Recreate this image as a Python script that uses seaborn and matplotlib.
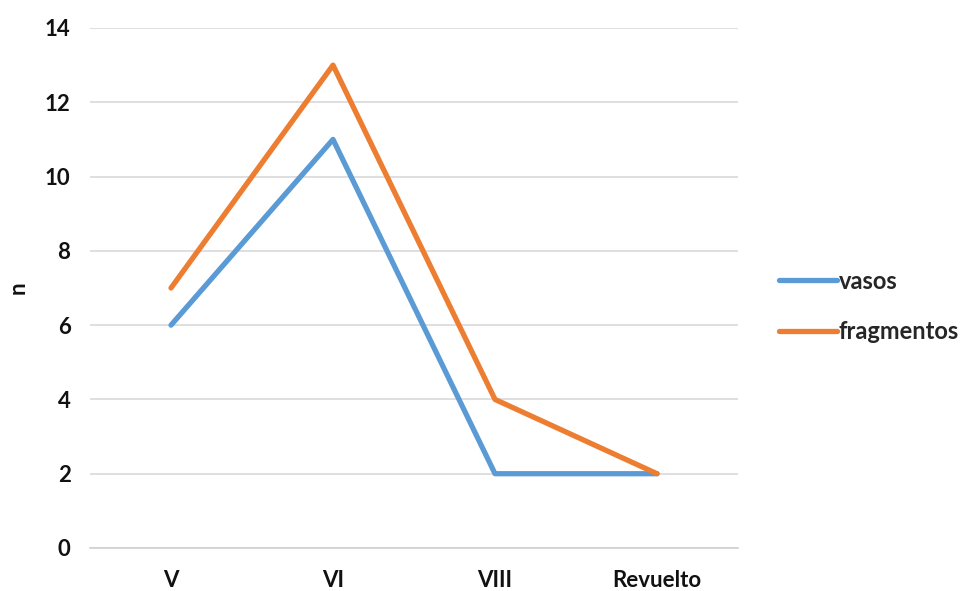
import matplotlib
matplotlib.use("Agg")
import matplotlib.pyplot as plt
import seaborn as sns
import pandas as pd

categories = ["V", "VI", "VIII", "Revuelto"]
vasos = [6, 11, 2, 2]
fragmentos = [7, 13, 4, 2]
y_ticks = [0, 2, 4, 6, 8, 10, 12, 14]

sns.set_theme(style="white")
plt.rcParams["font.family"] = ["Lato", "DejaVu Sans"]

df = pd.DataFrame({
    "periodo": categories * 2,
    "n": vasos + fragmentos,
    "serie": ["vasos"] * len(vasos) + ["fragmentos"] * len(fragmentos),
})

fig = plt.figure(figsize=(9.66, 5.91), dpi=100)
ax = fig.add_axes([90 / 966, 1 - 548 / 591, 648 / 966, 520 / 591])

palette = {"vasos": "#5B9BD5", "fragmentos": "#ED7D31"}
sns.lineplot(data=df, x="periodo", y="n", hue="serie", palette=palette,
             linewidth=3.8, sort=False, ax=ax, legend=True)

ax.set_xlim(-0.5, 3.5)
ax.set_ylim(0, 14)
ax.set_yticks(y_ticks)
ax.yaxis.grid(True, color="#d9d9d9", linewidth=1.2)
ax.set_axisbelow(True)
for side in ["left", "right", "top"]:
    ax.spines[side].set_visible(False)
ax.spines["bottom"].set_color("#d0d0d0")
ax.spines["bottom"].set_linewidth(1.2)
ax.tick_params(axis="both", length=0, labelsize=16)
ax.tick_params(axis="x", pad=16)
ax.tick_params(axis="y", pad=14)
for lbl in ax.get_xticklabels() + ax.get_yticklabels():
    lbl.set_fontweight("bold")
    lbl.set_color("#111111")
ax.set_xlabel("")
ax.set_ylabel("n", fontsize=16, fontweight="bold", color="#111111", labelpad=12)

handles, labels = ax.get_legend_handles_labels()
leg = ax.legend(handles, labels, loc="center left", bbox_to_anchor=(1.064, 0.465),
                borderaxespad=0, borderpad=0, frameon=False,
                handlelength=2.45, handletextpad=0.05,
                labelspacing=1.15, prop={"size": 17, "weight": "bold"})
for h in leg.get_lines():
    h.set_linewidth(3.8)

fig.savefig("out.png", dpi=100)
